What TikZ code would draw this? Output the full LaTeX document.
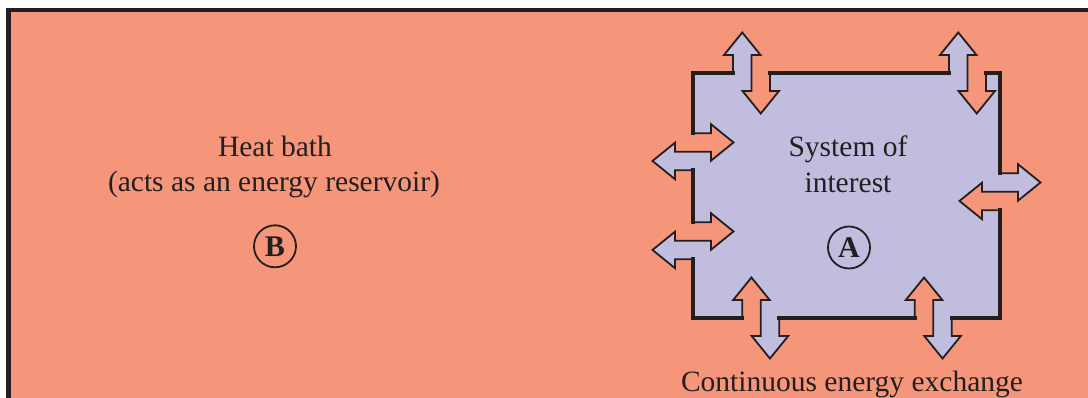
\documentclass[tikz,border=0pt]{standalone}
\usepackage{fontspec}
\setmainfont{Liberation Serif}
\definecolor{bath}{RGB}{245,150,122}
\definecolor{sysfill}{RGB}{193,189,222}
\definecolor{ink}{RGB}{35,31,32}

% double arrows crossing the boundary (clockwise traversal: outward arrow first, then inward)
\newcommand\toppair[1]{-- ({#1-18.5},73) -- ({#1-18.5},55) -- ({#1-27.5},55) -- ({#1-9.25},32.5) -- ({#1+9},55) -- ({#1},55) -- ({#1},91) -- ({#1-9},91) -- ({#1+9.25},113.5) -- ({#1+27.5},91) -- ({#1+18.5},91) -- ({#1+18.5},73)}
\newcommand\rightpair[1]{-- (1000,{#1-18.5}) -- (1018,{#1-18.5}) -- (1018,{#1-27.5}) -- (1040.5,{#1-9.25}) -- (1018,{#1+9}) -- (1018,{#1}) -- (982,{#1}) -- (982,{#1-9}) -- (959.5,{#1+9.25}) -- (982,{#1+27.5}) -- (982,{#1+18.5}) -- (1000,{#1+18.5})}
\newcommand\bottompair[1]{-- ({#1+18.5},318) -- ({#1+18.5},336) -- ({#1+27.5},336) -- ({#1+9.25},358.5) -- ({#1-9},336) -- ({#1},336) -- ({#1},300) -- ({#1+9},300) -- ({#1-9.25},277.5) -- ({#1-27.5},300) -- ({#1-18.5},300) -- ({#1-18.5},318)}
\newcommand\leftpair[1]{-- (693,{#1+18.5}) -- (675,{#1+18.5}) -- (675,{#1+27.5}) -- (652.5,{#1+9.25}) -- (675,{#1-9}) -- (675,{#1}) -- (711,{#1}) -- (711,{#1+9}) -- (733.5,{#1-9.25}) -- (711,{#1-27.5}) -- (711,{#1-18.5}) -- (693,{#1-18.5})}

\tikzset{
  txt/.style={font=\fontsize{29.5}{35}\selectfont, text=ink, inner sep=0pt},
  circlbl/.style={circle, draw=ink, line width=1.8pt, minimum size=42pt, inner sep=0pt,
    font=\fontsize{30}{30}\selectfont\bfseries, text=ink},
  thinline/.style={draw=ink, line width=1.8pt, line join=miter},
  thickline/.style={draw=ink, line width=3.6pt, line join=miter, line cap=rect},
}

\begin{document}
\begin{tikzpicture}[x=1pt, y=-1pt]
\useasboundingbox (0,0) rectangle (1088,398);
\clip (0,0) rectangle (1088,398);
\fill[white] (0,0) rectangle (1088,398);
% heat bath frame
\draw[draw=ink, line width=4.5pt, fill=bath] (8.5,10) rectangle (1120,430);

% system boundary with exchange arrows
\path[thinline, fill=sysfill] (693,73)
  \toppair{751.5} \toppair{967.5} -- (1000,73)
  \rightpair{191.7} -- (1000,318)
  \bottompair{933.3} \bottompair{760.7} -- (693,318)
  \leftpair{240.7} \leftpair{151.7} -- cycle;

% thick boundary segments
\draw[thickline] (693,133.2) -- (693,73) -- (733,73);
\draw[thickline] (770,73) -- (949,73);
\draw[thickline] (986,73) -- (1000,73) -- (1000,173.2);
\draw[thickline] (1000,210.2) -- (1000,318) -- (951.8,318);
\draw[thickline] (914.8,318) -- (779.2,318);
\draw[thickline] (742.2,318) -- (693,318) -- (693,259.2);
\draw[thickline] (693,222.2) -- (693,170.2);

% texts
\node[txt, anchor=base] (bath1) at (275,156.7) {Heat bath};
\node[txt, anchor=base] (bath2) at (274,191.7) {(acts as an energy reservoir)};
\node[circlbl] (B) at (275,246.3) {B};

\node[txt, anchor=base] (sys1) at (848,156.7) {System of};
\node[txt, anchor=base] (sys2) at (848,192.7) {interest};
\node[circlbl] (A) at (849,247.5) {A};

\node[txt, anchor=base] (exch) at (852,391.7) {Continuous energy exchange};
\end{tikzpicture}
\end{document}
